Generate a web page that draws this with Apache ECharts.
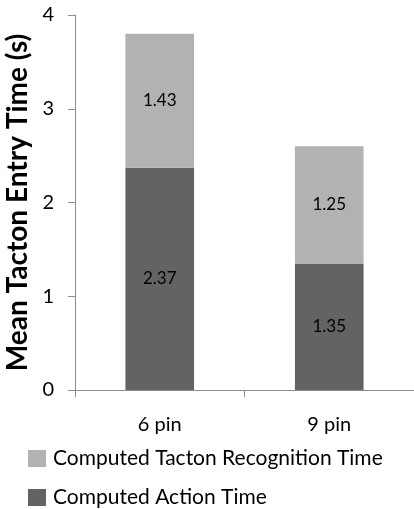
<!DOCTYPE html>
<html>
<head>
<meta charset="utf-8">
<script src="https://cdn.jsdelivr.net/npm/echarts@6/dist/echarts.min.js"></script>
<style>
  html, body { margin: 0; padding: 0; background: #fff; }
  #chart { width: 414px; height: 509px; }
</style>
</head>
<body>
<div id="chart"></div>
<script>
// data
var categories = ['6 pin', '9 pin'];
var actionTime = [2.37, 1.35];
var recognitionTime = [1.43, 1.25];
var yTicks = [0, 1, 2, 3, 4];

var FONT = 'Lato, "Open Sans", sans-serif';

// one legend row per series, stacked like the original
function legendRow(name, top) {
  return {
    left: 28,
    top: top,
    padding: 0,
    itemWidth: 18,
    itemHeight: 17,
    itemGap: 0,
    icon: 'rect',
    selectedMode: false,
    textStyle: { fontSize: 21, color: '#000', fontFamily: FONT, padding: [0, 0, 0, 2] },
    data: [name]
  };
}

var myChart = echarts.init(document.getElementById('chart'));
myChart.setOption({
  backgroundColor: '#ffffff',
  animation: false,
  textStyle: { fontFamily: FONT },
  grid: {
    left: 75,
    right: 0,
    top: 15,
    bottom: 119,
    outerBoundsMode: 'none'
  },
  legend: [
    legendRow('Computed Tacton Recognition Time', 448),
    legendRow('Computed Action Time', 487)
  ],
  xAxis: {
    type: 'category',
    data: categories,
    axisLine: { lineStyle: { color: '#8c8c8c', width: 1 } },
    axisTick: { show: true, length: 7, lineStyle: { color: '#8c8c8c' } },
    axisLabel: { fontSize: 20, color: '#000', margin: 25, fontFamily: FONT }
  },
  yAxis: {
    type: 'value',
    min: yTicks[0],
    max: yTicks[yTicks.length - 1],
    interval: 1,
    name: 'Mean Tacton Entry Time (s)',
    nameLocation: 'middle',
    nameGap: 38,
    nameTextStyle: { fontSize: 28, fontWeight: 'bold', color: '#000', fontFamily: FONT },
    splitLine: { show: false },
    axisLine: { show: true, lineStyle: { color: '#8c8c8c', width: 1 } },
    axisTick: { show: true, length: 7, lineStyle: { color: '#8c8c8c' } },
    axisLabel: { fontSize: 20, color: '#000', margin: 21, fontFamily: FONT }
  },
  series: [
    {
      name: 'Computed Action Time',
      type: 'bar',
      stack: 'total',
      barWidth: '40.5%',
      data: actionTime,
      itemStyle: { color: '#636363' },
      label: { show: true, position: 'inside', fontSize: 17, color: '#000', fontFamily: FONT,
        formatter: function (p) { return p.value.toFixed(2); } }
    },
    {
      name: 'Computed Tacton Recognition Time',
      type: 'bar',
      stack: 'total',
      barWidth: '40.5%',
      data: recognitionTime,
      itemStyle: { color: '#b2b2b2' },
      label: { show: true, position: 'inside', fontSize: 17, color: '#000', fontFamily: FONT,
        formatter: function (p) { return p.value.toFixed(2); } }
    }
  ]
});
</script>
</body>
</html>
